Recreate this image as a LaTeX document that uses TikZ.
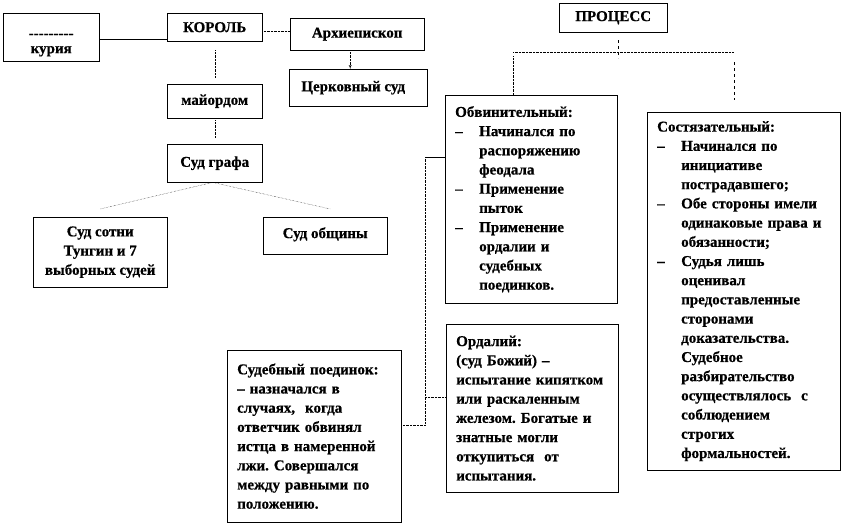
\documentclass[tikz,border=0pt]{standalone}
\usepackage{fontspec}
\setmainfont[BoldFeatures={FakeBold=0.6}]{Liberation Serif}
\usepackage{tikz}
\usetikzlibrary{shapes,arrows,calc,positioning}
\tikzstyle{block} = [rectangle, draw, thin, anchor=north west, inner xsep=10pt, inner ysep=3pt, font=\bfseries\fontsize{15}{19.2}\selectfont]
\tikzstyle{textblock} = [block, align=left]
\tikzstyle{line} = [draw, densely dotted, thin]
\newcommand{\itemdash}{\makebox[24pt][l]{–}}
\newcommand{\itemgap}{\hspace*{24pt}}
\frenchspacing

\begin{document}
\begin{tikzpicture}[x=1pt, y=1pt]
\useasboundingbox (0,0) rectangle (842,-525);

\node [block, align=center, minimum width=96pt, minimum height=48pt] (kuria) at (3,-13) {\rule{0pt}{20pt}{-}{-}{-}{-}{-}{-}{-}{-}{-}\\[-4pt]курия};
\node [block, minimum width=95pt, minimum height=28pt] (korol) at (167,-13) {КОРОЛЬ};
\node [block, minimum width=134pt, minimum height=32pt] (arch) at (290,-18) {Архиепископ};
\node [block, minimum width=138pt, minimum height=37pt] (church) at (289,-69) {Церковный суд\hspace*{10pt}};
\node [block, minimum width=95pt, minimum height=34pt] (major) at (167,-84) {майордом};
\node [block, minimum width=95pt, minimum height=38pt] (graf) at (167,-144) {\raisebox{2pt}{Суд графа}};
\node [block, align=center, minimum width=134pt, minimum height=70pt] (sotni) at (33,-217) {Суд сотни\\Тунгин и 7\\выборных судей};
\node [block, minimum width=124pt, minimum height=37pt] (obsh) at (263,-217) {\raisebox{6pt}{Суд общины}};

\node [block, minimum width=108pt, minimum height=29pt] (process) at (559,-3) {ПРОЦЕСС};
\node [textblock, text width=152pt, minimum height=208pt] (obv) at (445,-95) {Обвинительный:\\
\itemdash Начинался по\\
\itemgap распоряжению\\
\itemgap феодала\\
\itemdash Применение\\
\itemgap пыток\\
\itemdash Применение\\
\itemgap ордалии и\\
\itemgap судебных\\
\itemgap поединков.};
\node [textblock, text width=173pt, minimum height=358pt] (sost) at (647,-112) {Состязательный:\\
\itemdash Начинался по\\
\itemgap инициативе\\
\itemgap пострадавшего;\\
\itemdash Обе стороны имели\\
\itemgap одинаковые права и\\
\itemgap обязанности;\\
\itemdash Судья лишь\\
\itemgap оценивал\\
\itemgap предоставленные\\
\itemgap сторонами\\
\itemgap доказательства.\\
\itemgap Судебное\\
\itemgap разбирательство\\
\itemgap осуществлялось~ с\\
\itemgap соблюдением\\
\itemgap строгих\\
\itemgap формальностей.};
\node [textblock, text width=152pt, minimum height=168pt] (ordal) at (446,-324) {Ордалий:\\
(суд Божий) –\\
испытание кипятком\\
или раскаленным\\
железом. Богатые и\\
знатные могли\\
откупиться~ от\\
испытания.};
\node [textblock, text width=154pt, minimum height=172pt] (poed) at (227,-350) {Судебный поединок:\\
– назначался в\\
случаях,~ когда\\
ответчик обвинял\\
истца в намеренной\\
лжи. Совершался\\
между равными по\\
положению.};

\draw [thin] ([yshift=2pt]korol.south west) -- ([yshift=2pt]korol.south west -| kuria.east);
\path [line] ([yshift=-4pt]korol.east) -- ([yshift=-4pt]korol.east -| arch.west);
\path [line, -latex'] ([xshift=-7pt]arch.south) -- ([xshift=-7pt]arch.south |- church.north);
\path [line, shorten <=9pt, shorten >=6pt] (korol.south) -- (major.north);
\path [line, shorten <=2pt, shorten >=6pt] (major.south) -- (graf.north);
\path [line] ([xshift=-2pt]graf.south) -- ($(sotni.north)+(0,8)$);
\path [line] ([xshift=-2pt]graf.south) -- ($(obsh.north)+(5,8)$);

\coordinate (bus) at ($(process.south)+(5,-20)$);
\path [line, dashed] ([yshift=12pt]bus) -- ([yshift=-6pt]bus);
\path [line] ([xshift=-18pt]obv.north |- bus) -- ([xshift=-10pt]sost.north |- bus);
\path [line] ([xshift=-18pt,yshift=-4pt]obv.north |- bus) -- ([xshift=-18pt]obv.north);
\path [line, dashed] ([xshift=-10pt,yshift=-10pt]sost.north |- bus) -- ([xshift=-10pt,yshift=12pt]sost.north);

\draw [thin] ([yshift=42pt]obv.west) -- ++(-20,0) coordinate (trunk);
\path [line] (trunk) |- ([yshift=11pt]poed.east);
\path [line] ([yshift=11pt]ordal.west -| trunk) -- ([yshift=11pt]ordal.west);

\end{tikzpicture}
\end{document}
